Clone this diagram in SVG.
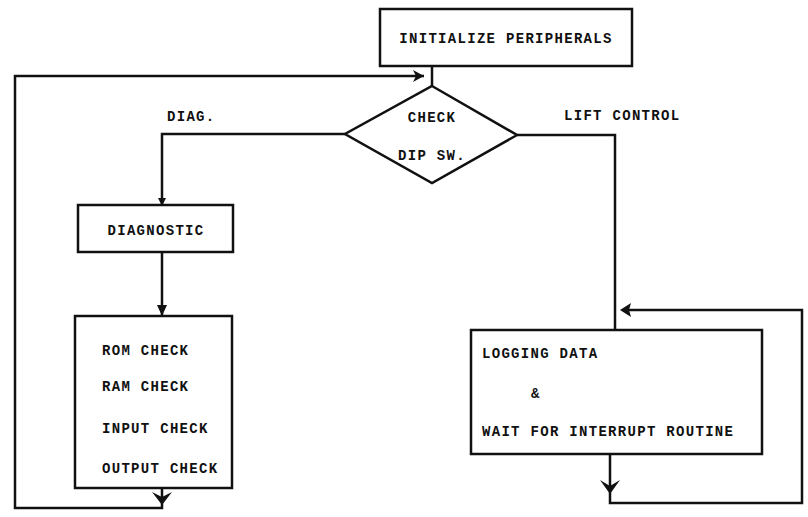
<svg xmlns="http://www.w3.org/2000/svg" width="808" height="517" viewBox="0 0 808 517">
<style>
.box{fill:#fff;stroke:#111;stroke-width:2.5}
.ln{fill:none;stroke:#111;stroke-width:2.5}
.ah{fill:#111;stroke:none}
text{font-family:"Liberation Mono","DejaVu Sans Mono",monospace;font-weight:bold;font-size:14px;letter-spacing:1.3px;fill:#111}
</style>
<rect width="808" height="517" fill="#fff"/>
<g id="connectors">
<path class="ln" d="M432,66 V86"/>
<path class="ln" d="M162,488 V508 H15 V76 H424"/>
<path class="ah" d="M424,76 L413,70 L416,76 L413,82 Z"/>
<path class="ln" d="M345,134 H162 V205"/>
<path class="ah" d="M162,206 L158,198 L166,198 Z"/>
<path class="ln" d="M162,252 V316"/>
<path class="ah" d="M162,316 L157,305 L167,305 Z"/>
<path class="ah" d="M162,505 L152,492 L162,497 L172,492 Z"/>
<path class="ln" d="M517,135 H615 V330"/>
<path class="ln" d="M610,454 V503 H802 V310 H626"/>
<path class="ah" d="M620,310 L631,303 L629,310 L631,317 Z"/>
<path class="ah" d="M610,494 L600,480 L610,486 L620,480 Z"/>
</g>
<g id="init">
<rect class="box" x="380" y="9" width="252" height="57"/>
<text x="506" y="43" text-anchor="middle">INITIALIZE PERIPHERALS</text>
</g>
<g id="check">
<polygon class="box" points="432,86 517,135 432,183 345,134"/>
<text x="432" y="122" text-anchor="middle">CHECK</text>
<text x="432" y="160" text-anchor="middle">DIP SW.</text>
</g>
<g id="labels">
<text x="167" y="121">DIAG.</text>
<text x="564" y="120">LIFT CONTROL</text>
</g>
<g id="diagnostic">
<rect class="box" x="78" y="205" width="155" height="47"/>
<text x="156" y="235" text-anchor="middle">DIAGNOSTIC</text>
</g>
<g id="checks">
<rect class="box" x="75" y="316" width="157" height="172"/>
<text x="102" y="355">ROM CHECK</text>
<text x="102" y="391">RAM CHECK</text>
<text x="102" y="433">INPUT CHECK</text>
<text x="102" y="473">OUTPUT CHECK</text>
</g>
<g id="logging">
<rect class="box" x="471" y="330" width="291" height="124"/>
<text x="482" y="358">LOGGING DATA</text>
<text x="531" y="398">&amp;</text>
<text x="482" y="436">WAIT FOR INTERRUPT ROUTINE</text>
</g>
</svg>
